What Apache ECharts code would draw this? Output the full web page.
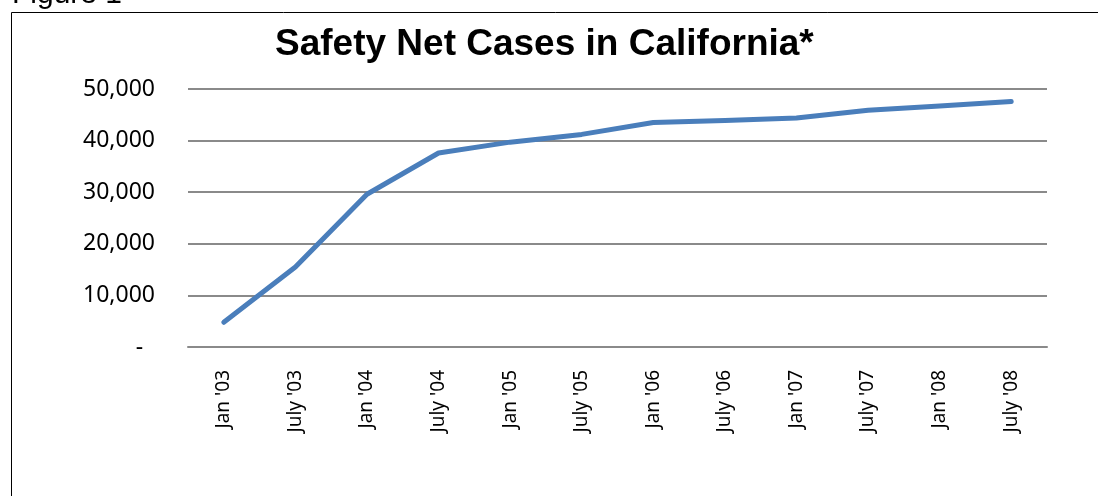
<!DOCTYPE html>
<html lang="en">

<head>
    <meta charset="UTF-8">
    <title>Safety Net Cases in California</title>
    <script src="https://cdn.jsdelivr.net/npm/echarts@6.0.0/dist/echarts.min.js"></script>
    <style>
        html, body {
            margin: 0;
            padding: 0;
            background-color: #fff;
        }

        #main {
            width: 1098px;
            height: 496px;
        }
    </style>
</head>

<body>
    <div id="main"></div>

    <script>
        // data
        let categories = ["Jan '03", "July '03", "Jan '04", "July '04", "Jan '05", "July '05",
            "Jan '06", "July '06", "Jan '07", "July '07", "Jan '08", "July '08"];
        let cases = [4800, 15500, 29600, 37600, 39700, 41200, 43500, 43900, 44400, 45900, 46700, 47600];
        let yTicks = [0, 10000, 20000, 30000, 40000, 50000];

        let myChart = echarts.init(document.getElementById('main'));

        let option = {
            animation: false,
            title: {
                text: 'Safety Net Cases in California*',
                left: 270,
                top: 21,
                textStyle: {
                    fontFamily: 'Liberation Sans',
                    fontWeight: 'bold',
                    fontSize: 37,
                    color: '#000'
                }
            },
            graphic: [
                {
                    // frame of the figure, runs off right and bottom
                    type: 'rect',
                    shape: { x: 11.5, y: 12.5, width: 1200, height: 600 },
                    style: { fill: 'none', stroke: '#000', lineWidth: 1 }
                },
                {
                    type: 'text',
                    x: 12,
                    y: 10,
                    style: {
                        text: 'Figure 1',
                        fontFamily: 'Liberation Sans',
                        fontSize: 30,
                        fill: '#000',
                        verticalAlign: 'bottom'
                    }
                }
            ],
            grid: {
                left: 188,
                right: 51,
                top: 89,
                bottom: 149
            },
            xAxis: {
                type: 'category',
                data: categories,
                boundaryGap: true,
                axisTick: { show: false },
                axisLine: { lineStyle: { color: '#8a8a8a', width: 2 } },
                axisLabel: {
                    rotate: 90,
                    margin: 23,
                    fontFamily: 'Noto Sans',
                    fontSize: 19,
                    color: '#000'
                }
            },
            yAxis: {
                type: 'value',
                min: yTicks[0],
                max: yTicks[yTicks.length - 1],
                interval: yTicks[1] - yTicks[0],
                axisLine: { show: false },
                axisTick: { show: false },
                splitLine: { lineStyle: { color: '#8a8a8a', width: 2 } },
                axisLabel: {
                    margin: 33,
                    fontFamily: 'Noto Sans',
                    fontSize: 23,
                    color: '#000',
                    formatter: function (v) {
                        if (v === 0) return '-  ';
                        return v.toLocaleString('en-US');
                    }
                }
            },
            series: [
                {
                    type: 'line',
                    data: cases,
                    showSymbol: false,
                    symbol: 'none',
                    lineStyle: { color: '#4a7ebb', width: 5, cap: 'round', join: 'round' }
                }
            ]
        };

        myChart.setOption(option);
    </script>

</body>

</html>
